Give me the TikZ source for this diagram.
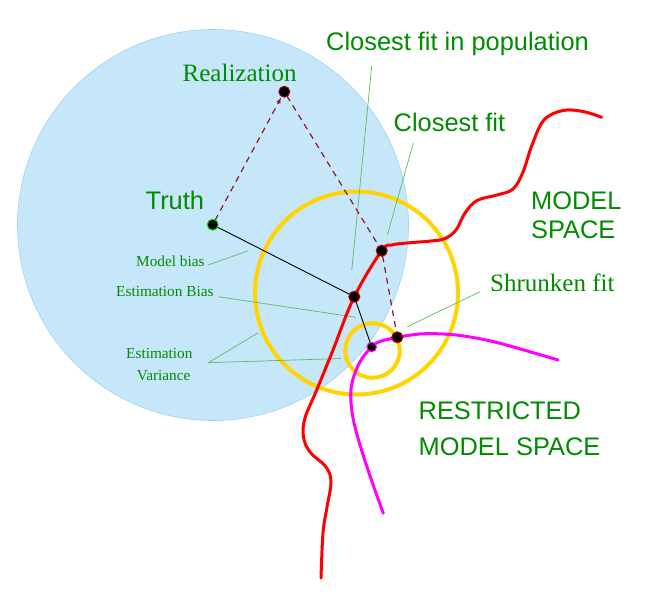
\documentclass[tikz,border=0pt]{standalone}
\usepackage{fontspec}
\setmainfont{Liberation Serif}
\setsansfont{Liberation Sans}
\usetikzlibrary{arrows.meta}
\definecolor{skyfill}{RGB}{198,231,250}
\definecolor{skyline}{RGB}{160,210,242}
\definecolor{txtgreen}{RGB}{0,140,0}
\definecolor{leadgreen}{RGB}{95,185,95}
\definecolor{goldring}{RGB}{255,212,0}
\definecolor{dred}{RGB}{150,20,35}
\definecolor{purered}{RGB}{255,0,0}
\definecolor{puremagenta}{RGB}{255,0,255}
\definecolor{puregreen}{RGB}{0,230,0}
\definecolor{rimred}{RGB}{170,0,0}
\begin{document}
\begin{tikzpicture}[x=1pt,y=-1pt,
  bigsans/.style={font=\fontsize{25.4}{30}\selectfont\sffamily, text=txtgreen, inner sep=0pt, anchor=base west},
  bigserif/.style={font=\fontsize{25}{30}\selectfont\rmfamily, text=txtgreen, inner sep=0pt, anchor=base west},
  smallserif/.style={font=\fontsize{15.3}{18}\selectfont\rmfamily, text=txtgreen, inner sep=0pt, anchor=base west},
  leader/.style={draw=leadgreen, line width=0.7pt},
  ring/.style={draw=goldring, line width=4pt},
  dashline/.style={draw=dred, line width=1.2pt, dash pattern=on 6pt off 5pt},
  dotmark/.style={circle, fill=black, minimum size=11pt, inner sep=0pt, draw=#1, line width=1pt},
  curve/.style={line width=3pt, line cap=round, line join=round}]
\useasboundingbox (0,0) rectangle (652,594);

% key points
\coordinate (T) at (212.7,224.7);
\coordinate (R) at (284.3,91.7);
\coordinate (CF) at (381.7,250.7);
\coordinate (CP) at (354.3,296.7);
\coordinate (SF) at (397.3,337.3);
\coordinate (MD) at (371.7,347);

% population sphere
\draw[fill=skyfill, draw=skyline, line width=0.6pt] (213,225) circle[radius=195.5];

% yellow rings
\draw[ring] (356.5,293) circle[radius=101.5];
\draw[ring] (372.5,350.5) circle[radius=27.3];

% leader lines
\coordinate (lpa) at (371.7,66);   \coordinate (lpb) at (351.7,270.7);
\coordinate (lca) at (413.3,143.3); \coordinate (lcb) at (387.3,235);
\coordinate (lma) at (208.3,265);  \coordinate (lmb) at (248.3,250.7);
\coordinate (lba) at (218.3,296.7); \coordinate (lbb) at (356,317.3);
\coordinate (lva) at (208.3,362.7); \coordinate (lvb) at (258.3,332.7); \coordinate (lvc) at (341,358.5);
\coordinate (lsa) at (480,291.7);  \coordinate (lsb) at (407.3,326.7);
\draw[leader] (lpa) -- (lpb);
\draw[leader] (lca) -- (lcb);
\draw[leader] (lma) -- (lmb);
\draw[leader] (lba) -- (lbb);
\draw[leader] (lvb) -- (lva) -- (lvc);
\draw[leader] (lsa) -- (lsb);

% model space (red)
\draw[curve, purered] plot[smooth, tension=0.6] coordinates {
  (601.7,117.3) (583,111.5) (563,110.5) (544,120) (532,145) (523,172) (513,189)
  (497,195) (477,200.5) (465,213) (456,230) (445,238.5) (431,241) (407,243)
  (392,245) (CF) (CP) (333,350) (316.7,390) (305,418) (303.5,437) (310,452)
  (326,467) (331,482) (327,507) (323,533) (321,578)};

% restricted model space (magenta)
\draw[curve, puremagenta] plot[smooth, tension=0.6] coordinates {
  (558,360) (500,343.3) (467,336.5) (443,334) (420,334) (SF) (380,341.5) (MD)
  (360,361.7) (352,383) (351,402) (355,427) (367,467) (383.3,513.3)};

% lines
\draw[black, line width=0.9pt] (T) -- (CP) -- (MD);
\draw[dashline, -{Latex[length=6pt,width=4.5pt]}, shorten >=6.5pt, shorten <=5pt] (T) -- (R);
\draw[dashline, shorten <=5pt] (R) -- (CF) -- (SF);

% dots
\node[dotmark=puregreen] (nT) at (T) {};
\node[dotmark=dred] (nR) at (R) {};
\node[dotmark=rimred] (nCF) at (CF) {};
\node[dotmark=rimred] (nCP) at (CP) {};
\node[dotmark=rimred] (nSF) at (SF) {};
\node[dotmark=puremagenta, minimum size=9.5pt] (nMD) at (MD) {};

% labels
\node[bigsans] (tPop) at (326,50) {Closest fit in population};
\node[bigsans] (tCF) at (393.5,131.7) {Closest fit};
\node[bigserif] (tReal) at (182.5,81.7) {Realization};
\node[bigsans] (tTruth) at (145.5,209.3) {Truth};
\node[bigsans] (tMS1) at (531,209.3) {MODEL};
\node[bigsans] (tMS2) at (531,238.3) {SPACE};
\node[bigserif] (tShr) at (490,291.7) {Shrunken fit};
\node[bigsans] (tRMS1) at (418.5,419.3) {RESTRICTED};
\node[bigsans] (tRMS2) at (418.5,455) {MODEL SPACE};
\node[smallserif] (tMB) at (136,266) {Model bias};
\node[smallserif] (tEB) at (116,296.7) {Estimation Bias};
\node[smallserif] (tEV1) at (126,358.3) {Estimation};
\node[smallserif] (tEV2) at (136.7,380) {Variance};
\end{tikzpicture}
\end{document}
